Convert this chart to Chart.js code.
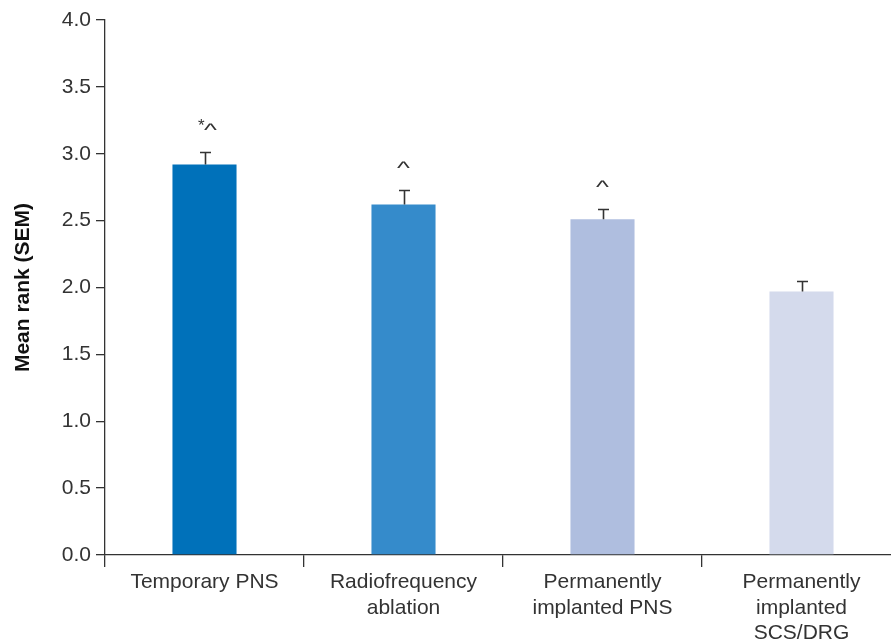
<!DOCTYPE html>
<html>
<head>
<meta charset="utf-8">
<script src="https://cdn.jsdelivr.net/npm/chart.js@4/dist/chart.umd.min.js"></script>
<style>
  html, body { margin: 0; padding: 0; background: #fff; overflow: hidden; }
  #wrap { width: 905px; height: 643px; }
</style>
</head>
<body>
<div id="wrap"><canvas id="chart" width="905" height="643"></canvas></div>
<script>
// Treatment groups (multi-line axis labels)
const categories = [
  ['Temporary PNS'],
  ['Radiofrequency', 'ablation'],
  ['Permanently', 'implanted PNS'],
  ['Permanently', 'implanted', 'SCS/DRG']
];
// Mean rank and its standard error per group
const meanRank = [2.92, 2.62, 2.51, 1.97];
const semValues = [0.09, 0.11, 0.08, 0.08];
// Significance markers shown above each bar
const markers = [['*', '^'], ['', '^'], ['', '^'], ['', '']];
const barColors = ['#0071BA', '#358BCB', '#AFBEDF', '#D4DAEC'];
const yTicks = [0, 0.5, 1, 1.5, 2, 2.5, 3, 3.5, 4];

const ink = '#333333';
const fontFamily = '"Liberation Sans", Arial, Helvetica, sans-serif';

// Draws SEM whiskers and significance markers on top of the bars
const errorBars = {
  id: 'errorBars',
  afterDatasetsDraw(chart) {
    const ctx = chart.ctx;
    const yScale = chart.scales.y;
    const meta = chart.getDatasetMeta(0);
    ctx.save();
    ctx.strokeStyle = ink;
    ctx.fillStyle = ink;
    ctx.lineWidth = 1.6;
    meta.data.forEach((bar, i) => {
      const x = Math.round(bar.x) + 0.5;
      const yBar = yScale.getPixelForValue(meanRank[i]);
      const yTop = Math.round(yScale.getPixelForValue(meanRank[i] + semValues[i])) + 0.5;
      ctx.beginPath();
      ctx.moveTo(x, yBar);
      ctx.lineTo(x, yTop);
      ctx.moveTo(x - 5.5, yTop);
      ctx.lineTo(x + 5.5, yTop);
      ctx.stroke();

      const [star, caret] = markers[i];
      const caretBottom = yTop - 22;
      if (caret) {
        // a wide, flat caret
        const sx = 1.25, sy = 0.85;
        ctx.font = '22px ' + fontFamily;
        ctx.textAlign = 'center';
        ctx.textBaseline = 'alphabetic';
        const m = ctx.measureText(caret);
        const cx = x + (star ? 5 : -1);
        ctx.save();
        ctx.translate(cx, caretBottom);
        ctx.scale(sx, sy);
        ctx.fillText(caret, 0, -m.actualBoundingBoxDescent);
        ctx.restore();
        if (star) {
          ctx.font = '17px ' + fontFamily;
          ctx.textAlign = 'right';
          const ms = ctx.measureText(star);
          const caretTop = caretBottom - (m.actualBoundingBoxAscent + m.actualBoundingBoxDescent) * sy;
          ctx.fillText(star, cx - 6, caretTop - 5 + ms.actualBoundingBoxAscent);
        }
      }
    });
    ctx.restore();
  }
};

new Chart(document.getElementById('chart'), {
  type: 'bar',
  data: {
    labels: categories,
    datasets: [{
      data: meanRank,
      backgroundColor: barColors,
      borderWidth: 0,
      barPercentage: 1,
      categoryPercentage: 0.322
    }]
  },
  options: {
    responsive: false,
    animation: false,
    devicePixelRatio: 1,
    layout: { padding: { top: 20, right: 4, left: 0, bottom: 0 } },
    plugins: {
      legend: { display: false },
      tooltip: { enabled: false }
    },
    scales: {
      x: {
        afterFit(scale) { scale.height = 88; },
        grid: {
          offset: true,
          drawOnChartArea: false,
          drawTicks: true,
          tickLength: 12,
          color: ink,
          lineWidth: 1.3
        },
        border: { display: true, color: ink, width: 1.3 },
        ticks: {
          color: ink,
          padding: 3,
          maxRotation: 0,
          autoSkip: false,
          font: { family: fontFamily, size: 21, lineHeight: 1.2 }
        }
      },
      y: {
        min: 0,
        max: 4,
        afterFit(scale) { scale.width = 105; },
        afterBuildTicks(scale) { scale.ticks = yTicks.map(v => ({ value: v })); },
        grid: {
          drawOnChartArea: false,
          drawTicks: true,
          tickLength: 9,
          color: ink,
          lineWidth: 1.3
        },
        border: { display: true, color: ink, width: 1.3 },
        ticks: {
          color: ink,
          padding: 5,
          font: { family: fontFamily, size: 21 },
          callback: v => Number(v).toFixed(1)
        },
        title: {
          display: true,
          text: 'Mean rank (SEM)',
          color: '#111',
          padding: { top: 11, bottom: 0 },
          font: { family: fontFamily, size: 21, weight: 'bold' }
        }
      }
    }
  },
  plugins: [errorBars]
});
</script>
</body>
</html>
